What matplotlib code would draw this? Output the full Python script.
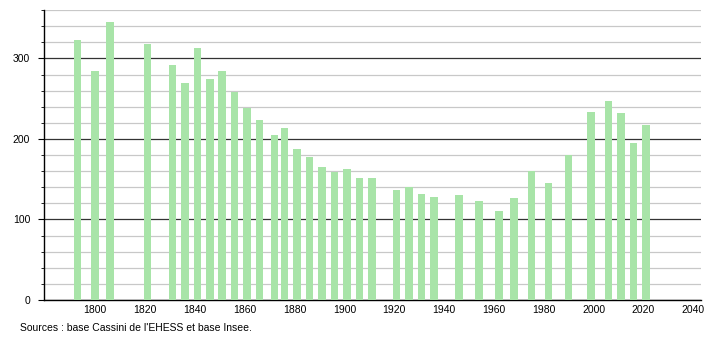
import matplotlib.pyplot as plt
import numpy as np
from matplotlib.ticker import MultipleLocator

years = [1793, 1800, 1806, 1821, 1831, 1836, 1841, 1846, 1851, 1856,
         1861, 1866, 1872, 1876, 1881, 1886, 1891, 1896, 1901, 1906,
         1911, 1921, 1926, 1931, 1936, 1946, 1954, 1962, 1968, 1975,
         1982, 1990, 1999, 2006, 2011, 2016, 2021]
population = [323, 285, 345, 318, 292, 269, 313, 274, 285, 258,
              238, 223, 205, 213, 187, 178, 165, 159, 163, 152,
              152, 136, 140, 132, 128, 130, 123, 110, 126, 160,
              145, 180, 233, 247, 232, 195, 217]
x_ticks = list(range(1800, 2041, 20))
source = "Sources : base Cassini de l'EHESS et base Insee."

plt.rcParams['font.family'] = ['Liberation Sans', 'DejaVu Sans']

fig = plt.figure(figsize=(7.1, 3.4), dpi=100)
ax = fig.add_axes([0.062, 0.118, 0.925, 0.852])

ax.bar(years, population, width=3.0, color="#a8e4a8", zorder=3)

ax.set_xlim(1779.5, 2043)
ax.set_ylim(0, 360)
ax.set_xticks(x_ticks)
ax.yaxis.set_major_locator(MultipleLocator(100))
ax.yaxis.set_minor_locator(MultipleLocator(20))
ax.grid(axis="y", which="minor", color="#c8c8c8", linewidth=0.9, zorder=1)
ax.grid(axis="y", which="major", color="#333333", linewidth=0.9, zorder=2)

for s in ["top", "right"]:
    ax.spines[s].set_visible(False)
ax.spines["left"].set_linewidth(1.0)
ax.spines["bottom"].set_linewidth(1.0)
ax.tick_params(axis="x", length=0, labelsize=7.5, pad=4)
ax.tick_params(axis="y", which="major", length=4, labelsize=7.5, pad=6)
ax.tick_params(axis="y", which="minor", length=2.5)

fig.text(20 / 710, 1 - 328 / 340, source, fontsize=7.5, va="center", ha="left")

fig.savefig("out.png", dpi=100)
